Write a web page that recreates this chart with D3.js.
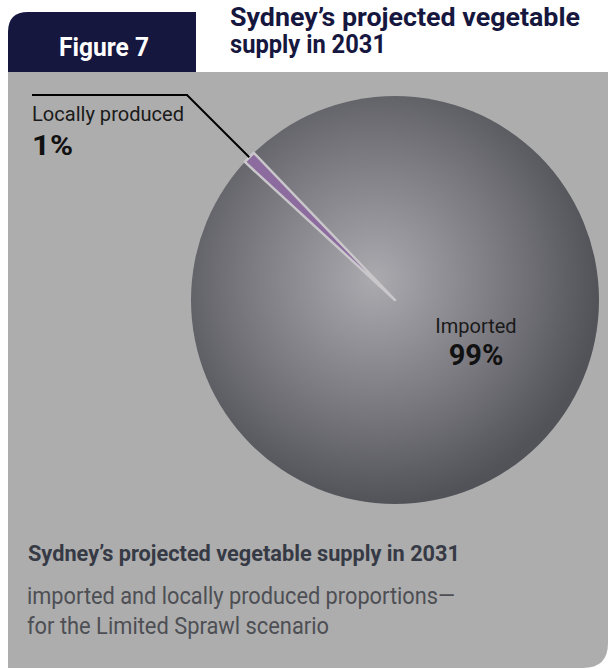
<!DOCTYPE html>
<html>
<head>
<meta charset="utf-8">
<script src="https://cdn.jsdelivr.net/npm/d3@7"></script>
<style>
  body { margin: 0; background: #fff; }
  text { font-family: Roboto, "Noto Sans", sans-serif; }
</style>
</head>
<body>
<script>
// chart data
var categories = ["Imported", "Locally produced"];
var shares = [99, 1];
var shareLabels = ["99%", "1%"];

var W = 610, H = 669;
var svg = d3.select("body").append("svg").attr("width", W).attr("height", H);

var defs = svg.append("defs");
var grad = defs.append("radialGradient").attr("id", "ball")
    .attr("cx", "45%").attr("cy", "45%").attr("r", "55%");
grad.append("stop").attr("offset", "0%").attr("stop-color", "#abaaaf");
grad.append("stop").attr("offset", "55%").attr("stop-color", "#7c7b81");
grad.append("stop").attr("offset", "100%").attr("stop-color", "#515359");

// gray panel with rounded bottom right corner
svg.append("path")
  .attr("d", "M8,72 H608 V643 Q608,668 583,668 H8 Z")
  .attr("fill", "#adadad");

// header tab
svg.append("path")
  .attr("d", "M8,72 V32 Q8,12 28,12 H196 V72 Z")
  .attr("fill", "#16173e");
svg.append("text").attr("x", 104).attr("y", 56)
  .attr("text-anchor", "middle").attr("fill", "#fff")
  .attr("textLength", 90).attr("lengthAdjust", "spacingAndGlyphs")
  .style("font-size", "26px").style("font-weight", "bold")
  .text("Figure 7");
svg.append("text").attr("x", 230).attr("y", 26)
  .attr("fill", "#16173e").style("font-size", "25px").style("font-weight", "bold")
  .attr("textLength", 350).attr("lengthAdjust", "spacingAndGlyphs")
  .text("Sydney\u2019s projected vegetable");
svg.append("text").attr("x", 230).attr("y", 53)
  .attr("fill", "#16173e").style("font-size", "25px").style("font-weight", "bold")
  .attr("textLength", 156).attr("lengthAdjust", "spacingAndGlyphs")
  .text("supply in 2031");

// pie
var cx = 395, cy = 300, R = 204;
var start = -43.8 * Math.PI / 180;
var pie = d3.pie().sort(null).startAngle(start).endAngle(start + 2 * Math.PI);
var arcs = pie(shares);
var arc = d3.arc().innerRadius(0).outerRadius(R);
var g = svg.append("g").attr("transform", "translate(" + cx + "," + cy + ")");

g.append("circle").attr("r", R).attr("fill", "url(#ball)");
g.selectAll("path.slice").data(arcs).enter().append("path")
  .attr("class", "slice")
  .attr("d", arc)
  .attr("fill", function(d, i) { return i === 0 ? "none" : "#8c6c9f"; })
  .attr("stroke", function(d, i) { return i === 0 ? "none" : "#c9c7c9"; })
  .attr("stroke-width", 2.5)
  .attr("stroke-linejoin", "round");

// leader line for the small slice
var small = arcs[1];
var mid = (small.startAngle + small.endAngle) / 2;
var ox = cx + R * Math.sin(mid), oy = cy - R * Math.cos(mid);
svg.append("polyline")
  .attr("points", [[ox, oy], [187, 95], [32, 95]].map(function(p) { return p.join(","); }).join(" "))
  .attr("fill", "none").attr("stroke", "#000").attr("stroke-width", 2);

svg.append("text").attr("x", 32).attr("y", 121)
  .attr("fill", "#1a1a1a").style("font-size", "20px")
  .attr("textLength", 152).attr("lengthAdjust", "spacingAndGlyphs")
  .text(categories[1]);
svg.append("text").attr("x", 32).attr("y", 155)
  .attr("fill", "#111").style("font-size", "28px").style("font-weight", "bold")
  .attr("textLength", 41).attr("lengthAdjust", "spacingAndGlyphs")
  .text(shareLabels[1]);

svg.append("text").attr("x", 476).attr("y", 333)
  .attr("text-anchor", "middle").attr("fill", "#1a1a1a").style("font-size", "20px")
  .text(categories[0]);
svg.append("text").attr("x", 476).attr("y", 365)
  .attr("text-anchor", "middle").attr("fill", "#111").style("font-size", "29px").style("font-weight", "bold")
  .text(shareLabels[0]);

// caption
svg.append("text").attr("x", 28).attr("y", 561)
  .attr("fill", "#363a45").style("font-size", "22px").style("font-weight", "bold")
  .attr("textLength", 432).attr("lengthAdjust", "spacingAndGlyphs")
  .text("Sydney\u2019s projected vegetable supply in 2031");
svg.append("text").attr("x", 27).attr("y", 604)
  .attr("fill", "#4d4f54").style("font-size", "23px")
  .attr("textLength", 428).attr("lengthAdjust", "spacingAndGlyphs")
  .text("imported and locally produced proportions\u2014");
svg.append("text").attr("x", 27).attr("y", 634)
  .attr("fill", "#4d4f54").style("font-size", "23px")
  .attr("textLength", 302).attr("lengthAdjust", "spacingAndGlyphs")
  .text("for the Limited Sprawl scenario");
</script>
</body>
</html>
